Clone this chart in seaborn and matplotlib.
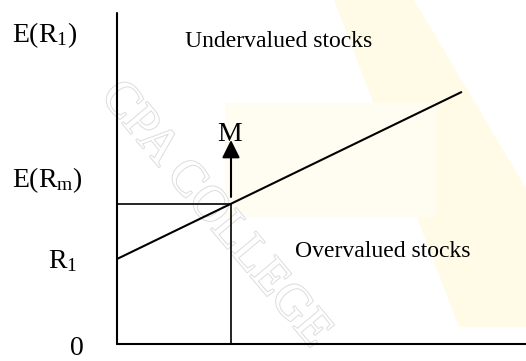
import numpy as np
import pandas as pd
import seaborn as sns
import matplotlib.pyplot as plt
import matplotlib.patheffects as pe

# security market line values (beta on x, expected return on y)
beta = [0.0, 3.02]
risk_free = 5.0
market_return = 8.25
market_beta = 1.0
arrow_top = 12.0

sml = pd.DataFrame({
    'beta': beta,
    'ret': [risk_free + b * (market_return - risk_free) for b in beta],
})

sns.set_theme(style='white')
plt.rcParams['font.family'] = ['Liberation Serif', 'DejaVu Serif']
plt.rcParams['mathtext.fontset'] = 'custom'
plt.rcParams['mathtext.rm'] = 'Liberation Serif'
plt.rcParams['text.color'] = 'black'

fig = plt.figure(figsize=(5.26, 3.61), dpi=100)
ax = fig.add_axes([0, 0, 1, 1])
ax.set_xlim(-117 / 114, 409 / 114)
ax.set_ylim(-1.0, 344 / 17)
ax.set_axis_off()

# faint yellow logo patches in the background
ax.fill([1.9, 2.6, 3.6, 3.6, 3.0], [20.3, 20.3, 9.0, 1.0, 1.0], color='#fffbe6', zorder=0, lw=0)
ax.fill([0.95, 2.8, 2.8, 0.95], [14.2, 14.2, 7.5, 7.5], color='#fffdf2', zorder=0, lw=0)

# watermark
ax.text(0.86, 7.6, 'CPA COLLEGE', fontsize=36, rotation=-50, ha='center', va='center',
        color='white', zorder=1,
        path_effects=[pe.withStroke(linewidth=1.4, foreground='#dcdcdc')])

# axes
ax.plot([0, 0], [0, 19.5], color='black', lw=1.5, zorder=3)
ax.plot([0, 3.6], [0, 0], color='black', lw=1.5, zorder=3)

# market point guides
ax.plot([0, market_beta], [market_return, market_return], color='black', lw=1.2, zorder=3)
ax.plot([market_beta, market_beta], [0, market_return], color='black', lw=1.2, zorder=3)

sns.lineplot(data=sml, x='beta', y='ret', ax=ax, color='black', lw=1.5, zorder=4)

ax.annotate('', xy=(market_beta, arrow_top), xytext=(market_beta, market_return + 0.4),
            arrowprops=dict(arrowstyle='-|>,head_length=0.54,head_width=0.27',
                            mutation_scale=20, color='black', lw=1.5,
                            shrinkA=0, shrinkB=0), zorder=5)

ax.text(-0.92, 17.76, r'$\mathrm{E(R_1)}$', fontsize=20, ha='left', va='baseline', zorder=2)
ax.text(-0.92, 9.24, r'$\mathrm{E(R_m)}$', fontsize=20, ha='left', va='baseline', zorder=2)
ax.text(-0.605, 4.47, r'$\mathrm{R_1}$', fontsize=20, ha='left', va='baseline', zorder=2)
ax.text(-0.41, -0.65, '0', fontsize=20, ha='left', va='baseline', zorder=2)
ax.text(0.596, 17.47, 'Undervalued stocks', fontsize=17, ha='left', va='baseline', zorder=2)
ax.text(1.561, 5.12, 'Overvalued stocks', fontsize=17, ha='left', va='baseline', zorder=2)
ax.text(0.987, 11.94, 'M', fontsize=20, ha='center', va='baseline', zorder=2)

fig.savefig('out.png', dpi=100)
